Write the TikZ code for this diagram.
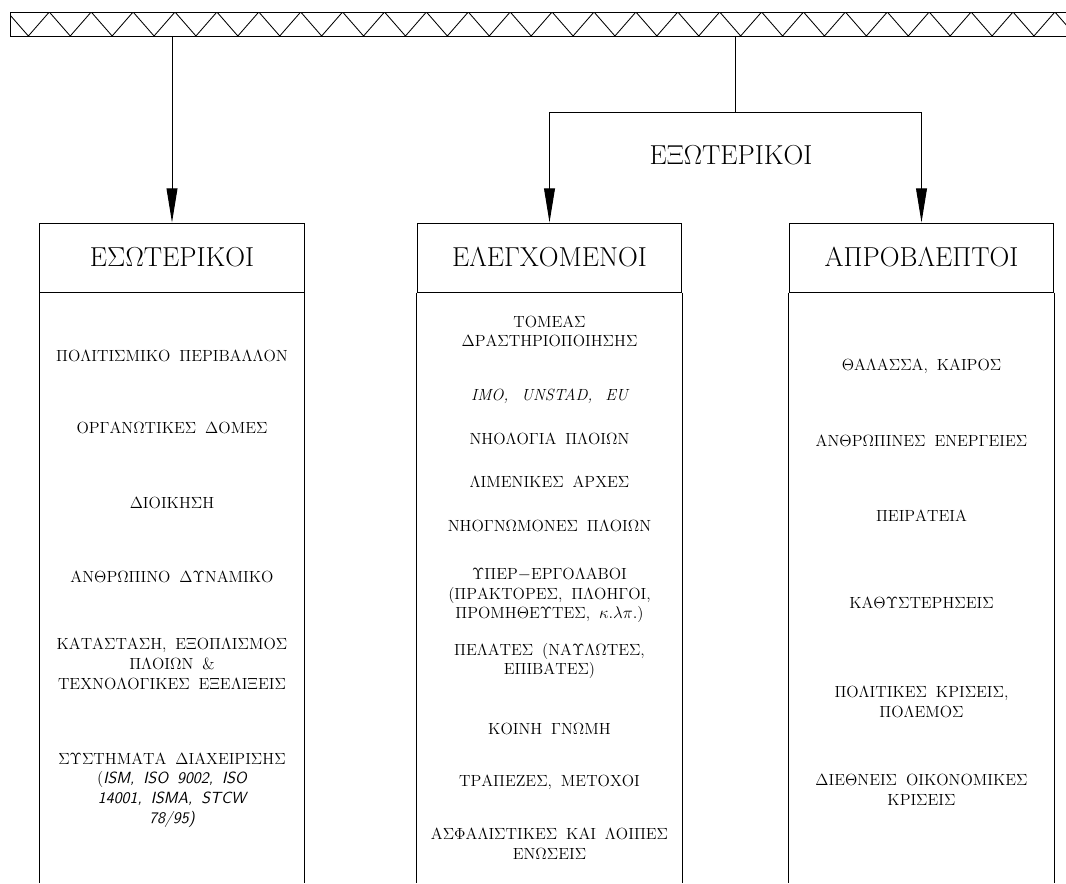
\documentclass[tikz,border=0pt]{standalone}
\usepackage{fontspec}
\usepackage{tikz}
\usetikzlibrary{arrows.meta,positioning}
\newcommand\itmfont{\fontsize{11.5}{14}\selectfont\spaceskip=0.55em\relax}
\newcommand\stdfont{\addfontfeatures{LetterSpace=8}\sffamily\itshape}
\tikzset{
  band/.style = {rectangle, draw, line width=0.7pt, inner sep=0pt,
                 minimum width=26.45cm, minimum height=0.6cm},
  hdr/.style  = {rectangle, draw, line width=0.7pt, inner sep=0pt,
                 minimum width=6.6cm, minimum height=1.725cm,
                 font=\fontsize{19.5}{22}\selectfont},
  itm/.style  = {align=center, inner sep=0pt, font=\itmfont},
  grp/.style  = {inner sep=0pt, font=\fontsize{19.5}{22}\selectfont},
  fl/.style   = {-{Triangle[length=8.5mm,width=2.7mm]}, line width=0.7pt},
  ln/.style   = {line width=0.7pt},
}

\begin{document}
\begin{tikzpicture}[x=0.025cm, y=-0.025cm]
  \useasboundingbox (0,0) rectangle (1066,883);

  % hatched band
  \node[band, anchor=north west] (band) at (10,12) {};
  \begin{scope}
    \clip (band.south west) rectangle (band.north east);
    \draw[line width=0.6pt] (7.4,12)
      \foreach \i in {0,...,25} { -- ++(20.95,24) -- ++(20.95,-24) };
  \end{scope}

  % headers
  \node[hdr] (hin)  at (172,257.5)   {ΕΣΩΤΕΡΙΚΟΙ};
  \node[hdr] (hctl) at (549.5,257.5) {ΕΛΕΓΧΟΜΕΝΟΙ};
  \node[hdr] (hunf) at (921.5,257.5) {ΑΠΡΟΒΛΕΠΤΟΙ};
  \node[grp] (ext) at (731,155) {ΕΞΩΤΕΡΙΚΟΙ};

  % open columns below headers
  \foreach \h in {hin,hctl,hunf} {
    \draw[ln] (\h.south west) -- (\h.south west |- 0,883);
    \draw[ln] (\h.south east) -- (\h.south east |- 0,883);
  }

  % internal
  \node[itm] (in1) at (172,356) {ΠΟΛΙΤΙΣΜΙΚΟ ΠΕΡΙΒΑΛΛΟΝ};
  \node[itm] (in2) at (172,428) {ΟΡΓΑΝΩΤΙΚΕΣ ΔΟΜΕΣ};
  \node[itm] (in3) at (172,503) {ΔΙΟΙΚΗΣΗ};
  \node[itm] (in4) at (172,577) {ΑΝΘΡΩΠΙΝΟ ΔΥΝΑΜΙΚΟ};
  \node[itm] (in5) at (172,664) {ΚΑΤΑΣΤΑΣΗ, ΕΞΟΠΛΙΣΜΟΣ\\ ΠΛΟΙΩΝ \&\\ ΤΕΧΝΟΛΟΓΙΚΕΣ ΕΞΕΛΙΞΕΙΣ};
  \node[itm] (in6) at (172,790) {ΣΥΣΤΗΜΑΤΑ ΔΙΑΧΕΙΡΙΣΗΣ\\ ({\stdfont ISM, ISO 9002, ISO}\\ {\stdfont 14001, ISMA, STCW}\\ {\stdfont 78/95)}};

  % controlled
  \node[itm] (ct1)  at (549.5,331.5) {ΤΟΜΕΑΣ\\ ΔΡΑΣΤΗΡΙΟΠΟΙΗΣΗΣ};
  \node[itm] (ct2)  at (549.5,396) {\addfontfeatures{LetterSpace=14}\itshape\spaceskip=0.8em\relax IMO, UNSTAD, EU};
  \node[itm] (ct3)  at (549.5,439) {ΝΗΟΛΟΓΙΑ ΠΛΟΙΩΝ};
  \node[itm] (ct4)  at (549.5,482) {ΛΙΜΕΝΙΚΕΣ ΑΡΧΕΣ};
  \node[itm] (ct5)  at (549.5,526) {ΝΗΟΓΝΩΜΟΝΕΣ ΠΛΟΙΩΝ};
  \node[itm] (ct6)  at (549.5,595.5) {ΥΠΕΡ$-$ΕΡΓΟΛΑΒΟΙ\\ (ΠΡΑΚΤΟΡΕΣ, ΠΛΟΗΓΟΙ,\\ ΠΡΟΜΗΘΕΥΤΕΣ, $\kappa.\lambda\pi.$)};
  \node[itm] (ct7)  at (549.5,661) {ΠΕΛΑΤΕΣ (ΝΑΥΛΩΤΕΣ,\\ ΕΠΙΒΑΤΕΣ)};
  \node[itm] (ct8)  at (549.5,729) {ΚΟΙΝΗ ΓΝΩΜΗ};
  \node[itm] (ct9)  at (549.5,782) {ΤΡΑΠΕΖΕΣ, ΜΕΤΟΧΟΙ};
  \node[itm] (ct10) at (549.5,844) {ΑΣΦΑΛΙΣΤΙΚΕΣ ΚΑΙ ΛΟΙΠΕΣ\\ ΕΝΩΣΕΙΣ};

  % unforeseen
  \node[itm] (un1) at (921.5,366) {ΘΑΛΑΣΣΑ, ΚΑΙΡΟΣ};
  \node[itm] (un2) at (921.5,441) {ΑΝΘΡΩΠΙΝΕΣ ΕΝΕΡΓΕΙΕΣ};
  \node[itm] (un3) at (921.5,516) {ΠΕΙΡΑΤΕΙΑ};
  \node[itm] (un4) at (921.5,602.5) {ΚΑΘΥΣΤΕΡΗΣΕΙΣ};
  \node[itm] (un5) at (921.5,702) {ΠΟΛΙΤΙΚΕΣ ΚΡΙΣΕΙΣ,\\ ΠΟΛΕΜΟΣ};
  \node[itm] (un6) at (921.5,790) {ΔΙΕΘΝΕΙΣ ΟΙΚΟΝΟΜΙΚΕΣ\\ ΚΡΙΣΕΙΣ};

  % connectors
  \coordinate (split) at (735.5,112);
  \draw[fl] (hin.north |- band.south) -- (hin.north);
  \draw[ln] (split |- band.south) -- (split);
  \draw[fl] (split) -| (hctl.north);
  \draw[fl] (split) -| (hunf.north);
\end{tikzpicture}
\end{document}
